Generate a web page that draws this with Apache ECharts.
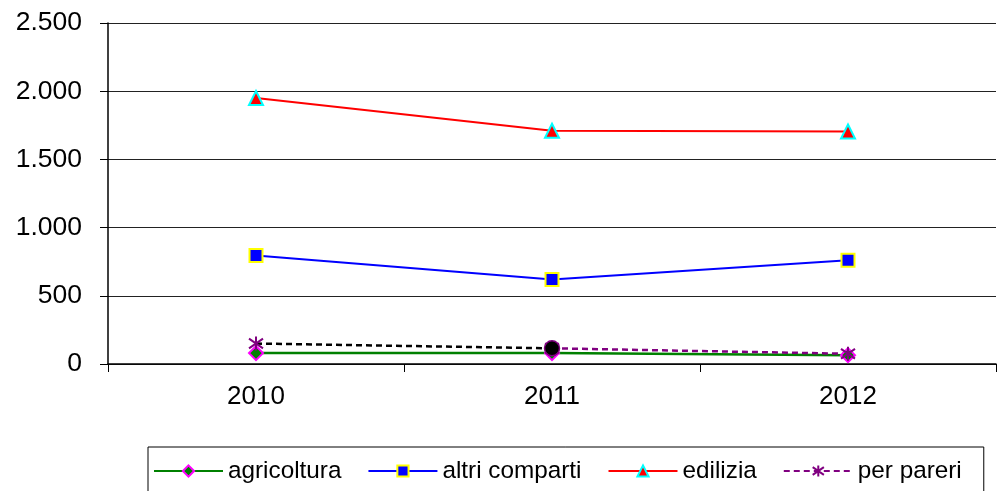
<!DOCTYPE html>
<html>
<head>
<meta charset="utf-8">
<script src="https://cdn.jsdelivr.net/npm/echarts@6/dist/echarts.min.js"></script>
<style>html,body{margin:0;padding:0;background:#fff}#c{width:999px;height:491px}</style>
</head>
<body>
<div id="c"></div>
<script>
var years = ['2010', '2011', '2012'];
var agricoltura = [80, 80, 65];
var altriComparti = [795, 620, 760];
var edilizia = [1950, 1710, 1705];
var perPareri = [150, 115, 75];
var yTicks = [0, 500, 1000, 1500, 2000, 2500];

var FONT = 'Liberation Sans, Arial, sans-serif';
var starPath = 'path://M5 0 L5 10 M0 1.5 L10 8.5 M10 1.5 L0 8.5';

function fmt(v) {
  return String(v).replace(/\B(?=(\d{3})+(?!\d))/g, '.');
}

var chart = echarts.init(document.getElementById('c'), null, {renderer: 'canvas'});
chart.setOption({
  animation: false,
  backgroundColor: '#fff',
  grid: {left: 108, right: 3, top: 23, bottom: 127},
  xAxis: {
    type: 'category',
    data: years,
    boundaryGap: true,
    axisLine: {lineStyle: {color: '#000', width: 1.5}},
    axisTick: {show: true, length: 8, lineStyle: {color: '#000', width: 1}},
    axisLabel: {color: '#000', fontFamily: FONT, fontSize: 26, margin: 20},
    splitLine: {show: false}
  },
  yAxis: {
    type: 'value',
    min: yTicks[0],
    max: yTicks[yTicks.length - 1],
    interval: yTicks[1] - yTicks[0],
    axisLine: {show: true, lineStyle: {color: '#000', width: 1.5}},
    axisTick: {show: true, length: 8, lineStyle: {color: '#000', width: 1}},
    axisLabel: {color: '#000', fontFamily: FONT, fontSize: 26.5, margin: 26, formatter: fmt},
    splitLine: {show: true, lineStyle: {color: '#222', width: 1}}
  },
  legend: {
    data: ['agricoltura', 'altri comparti', 'edilizia', 'per pareri'],
    left: 148,
    top: 447,
    padding: [12, 22, 12, 5],
    itemWidth: 69,
    itemHeight: 14,
    itemGap: 26,
    borderColor: '#000',
    borderWidth: 1,
    textStyle: {color: '#000', fontFamily: FONT, fontSize: 24.3}
  },
  series: [
    {
      name: 'edilizia', type: 'line', data: edilizia,
      symbol: 'triangle', symbolSize: 14,
      lineStyle: {color: '#ff0000', width: 2},
      itemStyle: {color: '#ff0000', borderColor: '#00ffff', borderWidth: 2}
    },
    {
      name: 'altri comparti', type: 'line', data: altriComparti,
      symbol: 'rect', symbolSize: 13,
      lineStyle: {color: '#0000ff', width: 2},
      itemStyle: {color: '#0000ff', borderColor: '#ffff00', borderWidth: 2}
    },
    {
      name: 'agricoltura', type: 'line', data: agricoltura,
      symbol: 'diamond', symbolSize: 14,
      lineStyle: {color: '#008000', width: 2.5},
      itemStyle: {color: '#008000', borderColor: '#ff00ff', borderWidth: 2}
    },
    {
      name: 'per pareri', type: 'line',
      data: perPareri.map(function (v, i) { return i === 0 ? '-' : v; }),
      symbol: starPath, symbolSize: 14,
      lineStyle: {color: '#800080', width: 2.5, type: [6, 4]},
      itemStyle: {color: '#800080', borderColor: '#800080', borderWidth: 2}
    },
    {
      name: 'per pareri (2010-2011)', type: 'line',
      data: perPareri.map(function (v, i) {
        if (i === 0) return {value: v, symbol: starPath, symbolSize: 14,
          itemStyle: {color: '#800080', borderColor: '#800080', borderWidth: 2}};
        if (i === 1) return {value: v, symbol: 'circle', symbolSize: 15,
          itemStyle: {color: '#000', borderColor: '#800080', borderWidth: 1.5}};
        return '-';
      }),
      lineStyle: {color: '#000', width: 2.5, type: [6, 4]}
    }
  ]
});
</script>
</body>
</html>
